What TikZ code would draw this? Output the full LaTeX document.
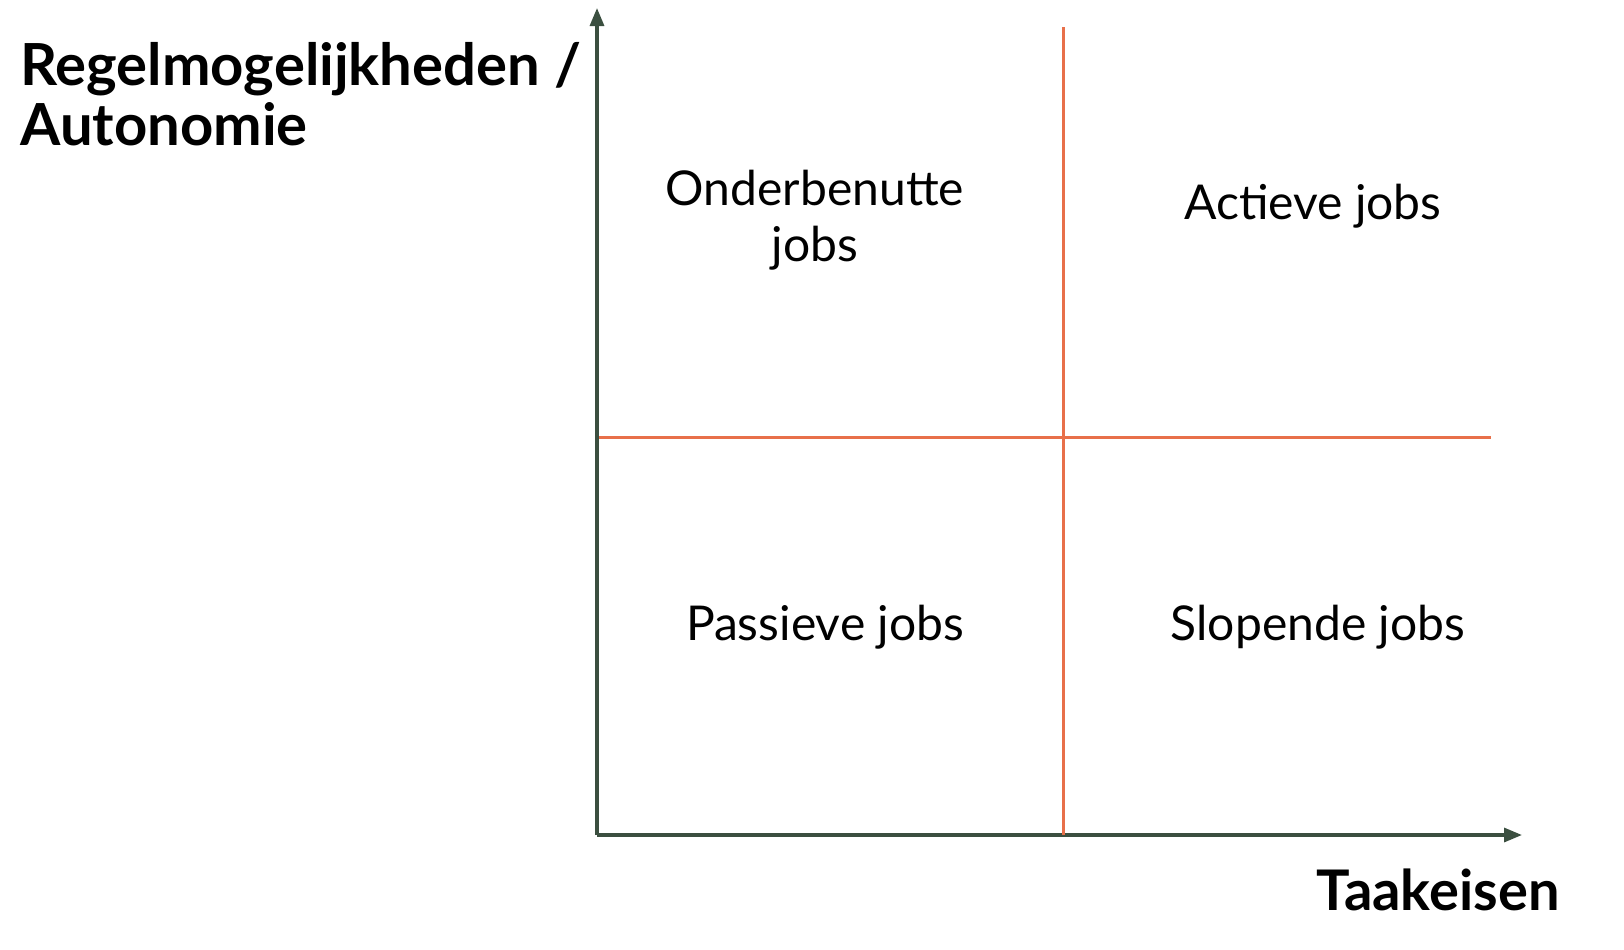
\documentclass[tikz,border=0pt]{standalone}
\usepackage{fontspec}
\setmainfont{Lato}
\usetikzlibrary{arrows.meta}
\definecolor{axisgreen}{HTML}{3B4F40}
\definecolor{splitorange}{HTML}{E8704A}

\begin{document}
\begin{tikzpicture}[x=0.5pt,y=-0.5pt,
	axis/.style={draw=axisgreen,line width=1.6pt,-{Triangle[length=9pt,width=7pt]}},
	split/.style={draw=splitorange,line width=1.5pt},
	quadrant/.style={font=\fontsize{24}{28}\selectfont,align=center},
	axislabel/.style={font=\fontsize{29}{30}\selectfont\bfseries,align=left,inner sep=0pt}]
	\useasboundingbox (0,0) rectangle (1624,949);
	%AXES
	\coordinate (O) at (597,835);
	\coordinate (ytip) at (597,8);
	\coordinate (xtip) at (1522,835);
	\draw[axis] (O) -- (ytip);
	\draw[axis] (O) -- (xtip);
	%SPLITS
	\coordinate (vtop) at (1063,27);
	\coordinate (vbot) at (1063,835);
	\coordinate (hleft) at (599,437);
	\coordinate (hright) at (1491,437);
	\draw[split] (vtop) -- (vbot);
	\draw[split] (hleft) -- (hright);
	%AXIS LABELS
	\node[axislabel,anchor=base west] (ylab) at (20,145) {Regelmogelijkheden /\\Autonomie};
	\node[axislabel,anchor=base east,font=\fontsize{28}{30}\selectfont\bfseries] (xlab) at (1560,910) {Taakeisen};
	%QUADRANTS
	\node[quadrant] (under) at (815,220) {Onderbenutte\\jobs};
	\node[quadrant] (active) at (1313,206) {Actieve jobs};
	\node[quadrant] (passive) at (825,627) {Passieve jobs};
	\node[quadrant] (wearing) at (1318,627) {Slopende jobs};
\end{tikzpicture}
\end{document}
